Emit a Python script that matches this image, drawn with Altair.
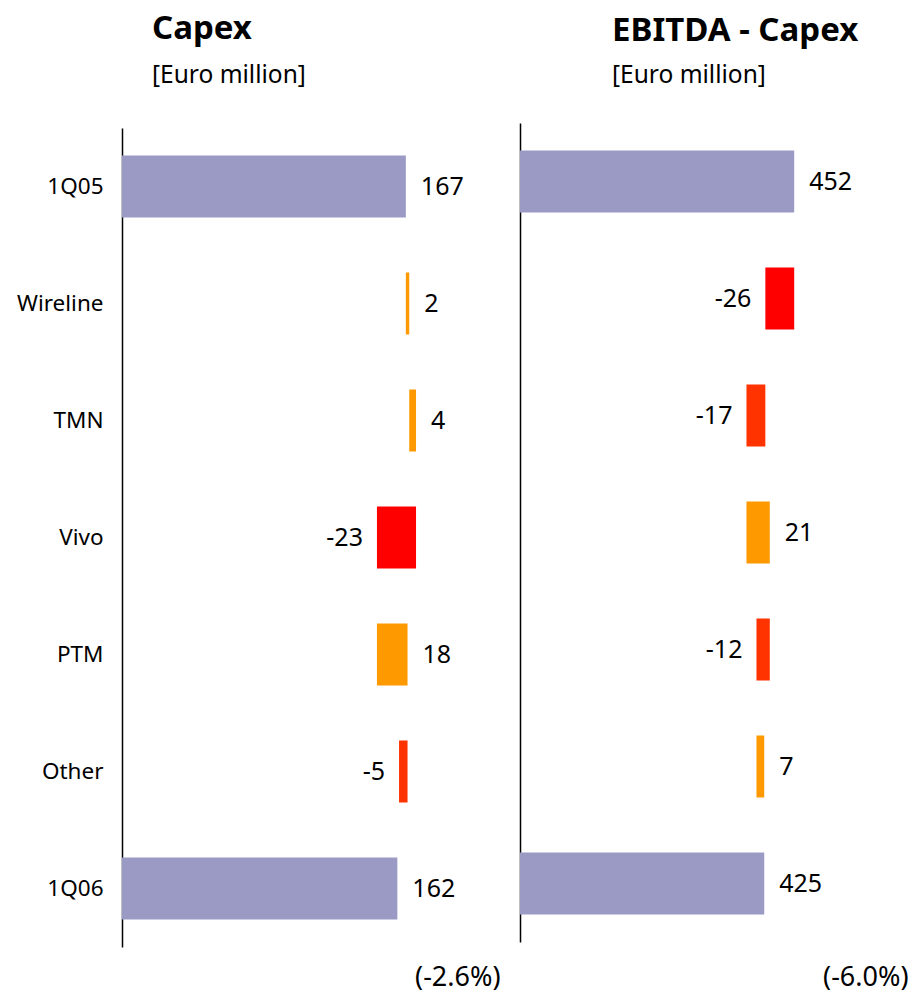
import altair as alt
import pandas as pd

# Bridge steps, top to bottom
steps = ["1Q05", "Wireline", "TMN", "Vivo", "PTM", "Other", "1Q06"]

# Euro million
capex = [167, 2, 4, -23, 18, -5, 162]
ebitda_minus_capex = [452, -26, -17, 21, -12, 7, 425]

# Year-on-year change shown under each bridge
capex_change = "(-2.6%)"
ebitda_minus_capex_change = "(-6.0%)"

FONT = "Noto Sans"
kind_domain = ["total", "up", "down", "down_big"]
kind_range = ["#9A9AC5", "#FF9900", "#FF3300", "#FF0000"]
PANEL_HEIGHT = 824


def bridge_table(values):
    """Start/end of every bar of a waterfall; first and last rows are totals."""
    rows = []
    running = 0
    last = len(values) - 1
    for i, (step, v) in enumerate(zip(steps, values)):
        if i == 0 or i == last:
            start, end = 0, v
            running = v
            kind = "total"
        else:
            start, end = running, running + v
            running = end
            kind = "up" if v > 0 else ("down_big" if v <= -20 else "down")
        rows.append({"step": step, "value": v, "start": start, "end": end,
                     "kind": kind, "label": str(v),
                     "side": "right" if (kind == "total" or v > 0) else "left"})
    return pd.DataFrame(rows)


def panel(values, title, domain, width, foot, title_dx, title_offset,
          sub_pad, y_range, show_labels):
    df = bridge_table(values)
    y_axis = alt.Axis(
        title=None, labels=show_labels, ticks=False, domain=True,
        domainColor="black", domainWidth=1.5, labelColor="black",
        labelFontSize=22.5, labelFont=FONT, labelPadding=19,
        minExtent=117 if show_labels else 0,
        maxExtent=117 if show_labels else 0,
    )
    y = alt.Y("step:N", sort=steps, axis=y_axis,
              scale=alt.Scale(paddingInner=0.47, paddingOuter=0.235,
                              range=y_range))
    x_scale = alt.Scale(domain=domain, clamp=True, zero=False, nice=False)
    x_axis = alt.Axis(title=foot, labels=False, ticks=False, domain=False,
                      grid=False, titleFontSize=27, titleFont=FONT,
                      titleFontWeight="normal", titleColor="black",
                      titleAnchor="end", titlePadding=17)

    base = alt.Chart(df)
    bars = base.mark_bar().encode(
        x=alt.X("start:Q", scale=x_scale, axis=x_axis),
        x2="end:Q",
        y=y,
        color=alt.Color("kind:N", legend=None,
                        scale=alt.Scale(domain=kind_domain, range=kind_range)),
    )
    right_labels = base.transform_filter(alt.datum.side == "right").mark_text(
        align="left", baseline="middle", dx=15, fontSize=25, font=FONT,
        color="black",
    ).encode(x=alt.X("end:Q", scale=x_scale), y=y, text="label:N")
    left_labels = base.transform_filter(alt.datum.side == "left").mark_text(
        align="right", baseline="middle", dx=-14, fontSize=25, font=FONT,
        color="black",
    ).encode(x=alt.X("end:Q", scale=x_scale), y=y, text="label:N")

    return alt.layer(bars, right_labels, left_labels).properties(
        width=width,
        height=PANEL_HEIGHT,
        title=alt.TitleParams(
            text=title, subtitle="[Euro million]", anchor="start",
            frame="group", dx=title_dx, offset=title_offset,
            fontSize=33, fontWeight="bold", font=FONT, color="black",
            subtitleFontSize=24.5, subtitleFont=FONT, subtitleColor="black",
            subtitlePadding=sub_pad,
        ),
    )


left = panel(capex, "Capex", [0, 222.4], 378, capex_change,
             title_dx=30, title_offset=36, sub_pad=18, y_range=[5, 824],
             show_labels=True)
right = panel(ebitda_minus_capex, "EBITDA - Capex", [205, 554.5], 388,
              ebitda_minus_capex_change, title_dx=92, title_offset=36,
              sub_pad=16, y_range=[0, 819], show_labels=False)

chart = alt.hconcat(left, right, spacing=20).properties(
    padding={"left": 5, "top": 12, "right": 6, "bottom": 2},
    background="white",
).configure_view(stroke=None)

chart.save("out.html", embed_options={"renderer": "svg", "actions": False})
